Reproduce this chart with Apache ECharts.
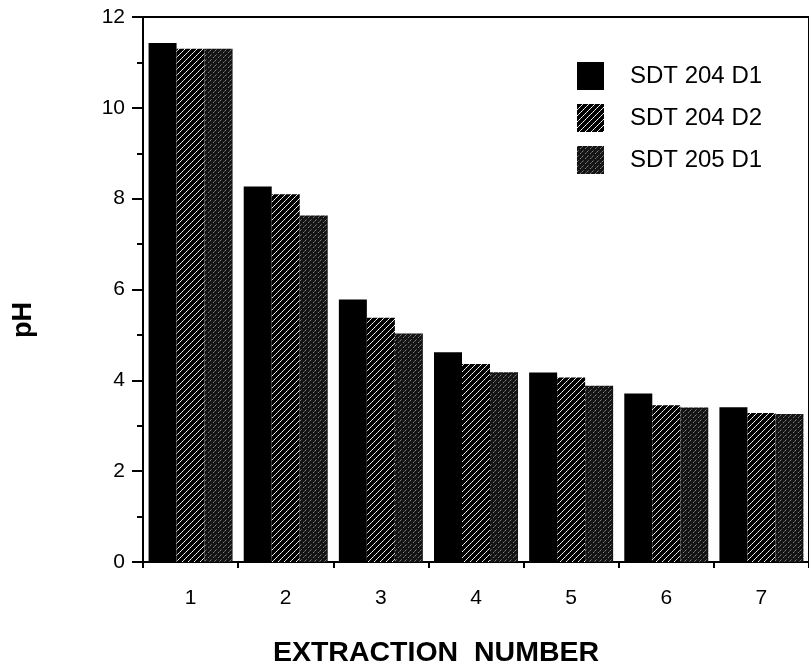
<!DOCTYPE html>
<html>
<head>
<meta charset="utf-8">
<script src="https://cdn.jsdelivr.net/npm/echarts@6/dist/echarts.min.js"></script>
<style>html,body{margin:0;padding:0;background:#fff}#c{width:809px;height:669px}</style>
</head>
<body>
<div id="c"></div>
<script>
const categories = ['1', '2', '3', '4', '5', '6', '7'];
const seriesNames = ['SDT 204 D1', 'SDT 204 D2', 'SDT 205 D1'];
const sdt204d1 = [11.43, 8.27, 5.78, 4.62, 4.17, 3.71, 3.41];
const sdt204d2 = [11.30, 8.10, 5.38, 4.36, 4.06, 3.45, 3.28];
const sdt205d1 = [11.30, 7.63, 5.03, 4.18, 3.88, 3.40, 3.26];
const yTicks = [0, 2, 4, 6, 8, 10, 12];

function hatchPattern() {
  const c = document.createElement('canvas');
  c.width = 6; c.height = 6;
  const g = c.getContext('2d');
  g.fillStyle = '#000'; g.fillRect(0, 0, 6, 6);
  for (let i = 0; i < 6; i++) {
    g.fillStyle = (i % 2 === 0) ? '#ffffff' : '#c8c8c8';
    g.fillRect(i, 5 - i, 1, 1);
  }
  return c;
}
function stipplePattern() {
  const c = document.createElement('canvas');
  c.width = 5; c.height = 5;
  const g = c.getContext('2d');
  g.fillStyle = '#141414'; g.fillRect(0, 0, 5, 5);
  g.fillStyle = '#808080'; g.fillRect(0, 0, 1, 1); g.fillRect(3, 2, 1, 1);
  g.fillStyle = '#505050'; g.fillRect(1, 4, 1, 1); g.fillRect(4, 1, 1, 1);
  return c;
}

const FONT = 'Liberation Sans, Arial, Helvetica, sans-serif';
const chart = echarts.init(document.getElementById('c'), null, {renderer: 'canvas'});
const fills = ['#000', {image: hatchPattern(), repeat: 'repeat'}, {image: stipplePattern(), repeat: 'repeat'}];
const values = [sdt204d1, sdt204d2, sdt205d1];

chart.setOption({
  animation: false,
  backgroundColor: '#fff',
  grid: {left: 143, top: 17, width: 672, bottom: 107, show: true, borderColor: '#000', borderWidth: 2, containLabel: false},
  legend: {
    orient: 'vertical', left: 572, top: 57, itemWidth: 27, itemHeight: 28, itemGap: 14,
    icon: 'rect',
    data: seriesNames,
    textStyle: {fontFamily: FONT, fontSize: 24, color: '#000', padding: [0, 0, 0, 21]}
  },
  xAxis: {
    type: 'category', data: categories, boundaryGap: true,
    axisLine: {lineStyle: {color: '#000', width: 2}},
    axisTick: {show: true, length: 6, lineStyle: {color: '#000', width: 2}},
    axisLabel: {fontFamily: FONT, fontSize: 21, color: '#000', margin: 26}
  },
  yAxis: {
    type: 'value', min: 0, max: 12, interval: 2,
    splitLine: {show: false},
    axisLine: {show: true, lineStyle: {color: '#000', width: 2}},
    axisTick: {show: true, length: 11, lineStyle: {color: '#000', width: 2}},
    minorTick: {show: true, splitNumber: 2, length: 6, lineStyle: {color: '#000', width: 2}},
    axisLabel: {fontFamily: FONT, fontSize: 21, color: '#000', margin: 18,
      formatter: v => yTicks.includes(v) ? String(v) : ''}
  },
  graphic: [
    {type: 'text', x: 436, y: 653, style: {text: 'EXTRACTION  NUMBER', font: 'bold 28.5px ' + FONT, fill: '#000', textAlign: 'center', textVerticalAlign: 'middle'}},
    {type: 'text', x: 24, y: 320, rotation: Math.PI / 2, style: {text: 'pH', font: 'bold 27px ' + FONT, fill: '#000', textAlign: 'center', textVerticalAlign: 'middle'}}
  ],
  series: seriesNames.map((n, i) => ({
    name: n, type: 'bar', data: values[i], barWidth: 28, barGap: '0%',
    itemStyle: {color: fills[i]}
  }))
});
</script>
</body>
</html>
